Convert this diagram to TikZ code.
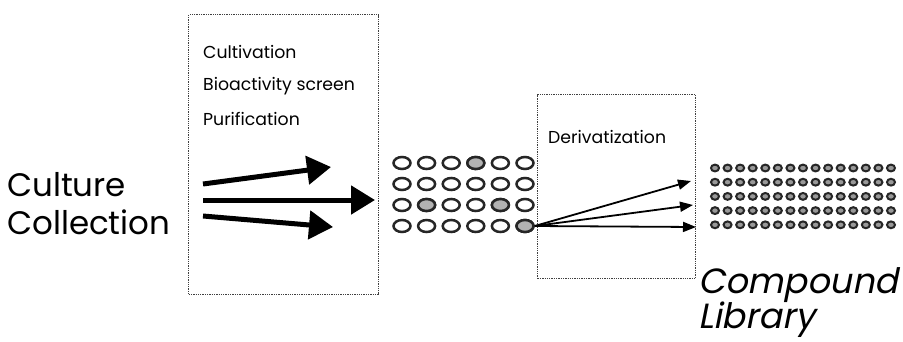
\documentclass[tikz,border=0pt]{standalone}
\usepackage{fontspec}
\setmainfont{Poppins}
\newfontfamily\slantfont[FakeSlant=0.2]{Poppins}
\usetikzlibrary{arrows.meta,shapes.geometric}
\begin{document}
\begin{tikzpicture}[x=1pt,y=-1pt,
  dotbox/.style={draw=black!75, line width=1.3pt, densely dotted, inner sep=0pt, anchor=north west},
  smalltext/.style={anchor=west, inner sep=0pt, font=\fontsize{17.3}{20}\selectfont},
  bigtext/.style={anchor=west, inner sep=0pt, font=\fontsize{32.5}{38}\selectfont},
  libtext/.style={anchor=west, inner sep=0pt, font=\slantfont\fontsize{35}{40}\selectfont},
  well/.style={ellipse, draw=black!85, line width=2.5pt, inner sep=0pt, minimum width=17pt, minimum height=12pt, fill=white},
  hit/.style={fill=black!30},
  cmpd/.style={ellipse, draw=black!85, line width=2pt, inner sep=0pt, minimum width=8pt, minimum height=6.8pt, fill=black!40},
  fatarrow/.style={line width=5pt, -{Triangle[length=24pt,width=28pt]}},
  thinarrow/.style={line width=1.8pt, -{Triangle[length=13pt,width=10pt]}}
]
\useasboundingbox (0,0) rectangle (903,341);

% boxes
\node[dotbox, minimum width=190pt, minimum height=280pt] (box1) at (188,14) {};
\node[dotbox, minimum width=158pt, minimum height=184pt] (box2) at (537,94) {};

% labels
\node[bigtext] (culture) at (7,185) {Culture};
\node[bigtext] (collection) at (7,222) {Collection};
\node[smalltext] (cult) at (203,52) {Cultivation};
\node[smalltext] (bio) at (203,86) {Bioactivity screen};
\node[smalltext] (puri) at (203,119) {Purification};
\node[smalltext] (deriv) at (548,137) {Derivatization};
\node[libtext] (compound) at (698,285) {Compound};
\node[libtext] (library) at (698,320) {Library};

% fat arrows in box 1
\coordinate (a1s) at (203,184);
\coordinate (a1e) at (331,167);
\coordinate (a2s) at (203,200);
\coordinate (a2e) at (375,200);
\coordinate (a3s) at (203,216);
\coordinate (a3e) at (333,227);
\draw[fatarrow] (a1s) -- (a1e);
\draw[fatarrow] (a2s) -- (a2e);
\draw[fatarrow] (a3s) -- (a3e);

% screening plate 6 x 4
\foreach \r in {0,...,3}{
  \foreach \c in {0,...,5}{
    \node[well] (g-\r-\c) at ({402+24.6*\c},{163+21*\r}) {};
  }
}
\foreach \r/\c in {0/3,2/1,2/4,3/5}{
  \node[well,hit] at (g-\r-\c) {};
}

% compound library 15 x 5
\foreach \r in {0,...,4}{
  \foreach \c in {0,...,14}{
    \node[cmpd] (l-\r-\c) at ({715+12.57*\c},{168+14.2*\r}) {};
  }
}

% derivatization arrows
\coordinate (d1) at (691,181);
\coordinate (d2) at (693,205);
\coordinate (d3) at (696,227);
\draw[thinarrow] (g-3-5.east) -- (d1);
\draw[thinarrow] (g-3-5.east) -- (d2);
\draw[thinarrow] (g-3-5.east) -- (d3);
\end{tikzpicture}
\end{document}
